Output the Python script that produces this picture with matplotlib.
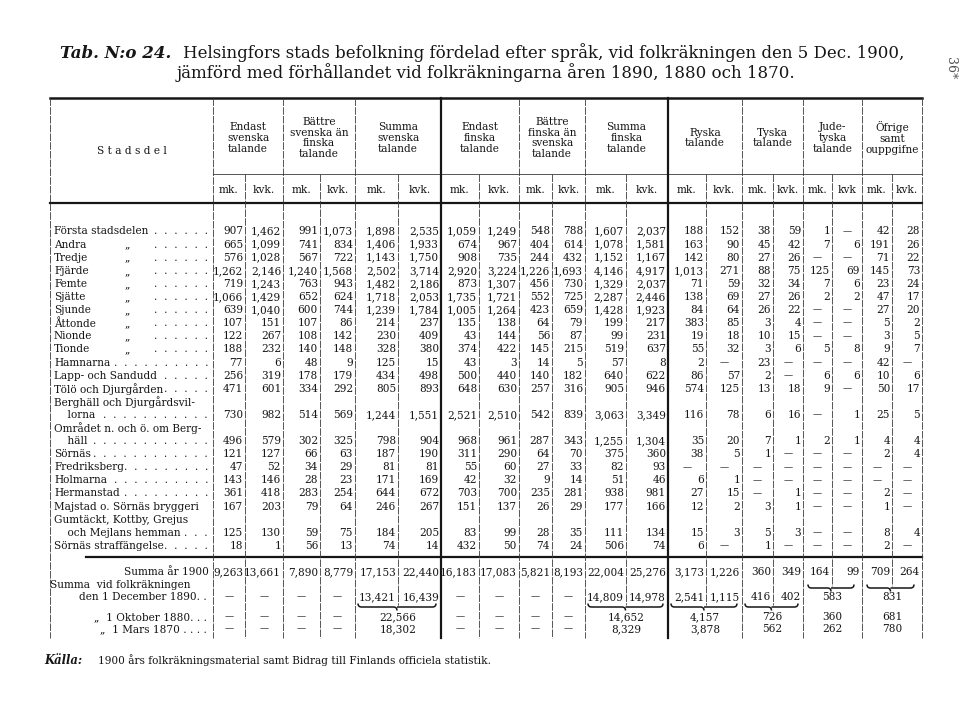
import matplotlib.pyplot as plt
from matplotlib.path import Path
from matplotlib.patches import PathPatch

# serif font similar to the printed table
plt.rcParams['font.family'] = ['DejaVu Serif']

# names of the districts (two-line names marked with \n)
stadsdelar = ["Första stadsdelen", "Andra", "Tredje", "Fjärde", "Femte", "Sjätte",
              "Sjunde", "Åttonde", "Nionde", "Tionde", "Hamnarna", "Lapp- och Sandudd",
              "Tölö och Djurgården", "Berghäll och Djurgårdsvil-\n    lorna",
              "Området n. och ö. om Berg-\n    häll", "Sörnäs", "Fredriksberg", "Holmarna",
              "Hermanstad", "Majstad o. Sörnäs bryggeri",
              "Gumtäckt, Kottby, Grejus\n    och Mejlans hemman", "Sörnäs straffängelse"]
# rows written with ditto mark („) after the name
ditto = [False] + [True] * 9 + [False] * 12

# values per column, None = dash
endast_sv_mk = [907, 665, 576, 1262, 719, 1066, 639, 107, 122, 188, 77, 256, 471, 730, 496, 121, 47, 143, 361, 167, 125, 18]
endast_sv_kvk = [1462, 1099, 1028, 2146, 1243, 1429, 1040, 151, 267, 232, 6, 319, 601, 982, 579, 127, 52, 146, 418, 203, 130, 1]
battre_sv_mk = [991, 741, 567, 1240, 763, 652, 600, 107, 108, 140, 48, 178, 334, 514, 302, 66, 34, 28, 283, 79, 59, 56]
battre_sv_kvk = [1073, 834, 722, 1568, 943, 624, 744, 86, 142, 148, 9, 179, 292, 569, 325, 63, 29, 23, 254, 64, 75, 13]
summa_sv_mk = [1898, 1406, 1143, 2502, 1482, 1718, 1239, 214, 230, 328, 125, 434, 805, 1244, 798, 187, 81, 171, 644, 246, 184, 74]
summa_sv_kvk = [2535, 1933, 1750, 3714, 2186, 2053, 1784, 237, 409, 380, 15, 498, 893, 1551, 904, 190, 81, 169, 672, 267, 205, 14]
endast_fi_mk = [1059, 674, 908, 2920, 873, 1735, 1005, 135, 43, 374, 43, 500, 648, 2521, 968, 311, 55, 42, 703, 151, 83, 432]
endast_fi_kvk = [1249, 967, 735, 3224, 1307, 1721, 1264, 138, 144, 422, 3, 440, 630, 2510, 961, 290, 60, 32, 700, 137, 99, 50]
battre_fi_mk = [548, 404, 244, 1226, 456, 552, 423, 64, 56, 145, 14, 140, 257, 542, 287, 64, 27, 9, 235, 26, 28, 74]
battre_fi_kvk = [788, 614, 432, 1693, 730, 725, 659, 79, 87, 215, 5, 182, 316, 839, 343, 70, 33, 14, 281, 29, 35, 24]
summa_fi_mk = [1607, 1078, 1152, 4146, 1329, 2287, 1428, 199, 99, 519, 57, 640, 905, 3063, 1255, 375, 82, 51, 938, 177, 111, 506]
summa_fi_kvk = [2037, 1581, 1167, 4917, 2037, 2446, 1923, 217, 231, 637, 8, 622, 946, 3349, 1304, 360, 93, 46, 981, 166, 134, 74]
ryska_mk = [188, 163, 142, 1013, 71, 138, 84, 383, 19, 55, 2, 86, 574, 116, 35, 38, None, 6, 27, 12, 15, 6]
ryska_kvk = [152, 90, 80, 271, 59, 69, 64, 85, 18, 32, None, 57, 125, 78, 20, 5, None, 1, 15, 2, 3, None]
tyska_mk = [38, 45, 27, 88, 32, 27, 26, 3, 10, 3, 23, 2, 13, 6, 7, 1, None, None, None, 3, 5, 1]
tyska_kvk = [59, 42, 26, 75, 34, 26, 22, 4, 15, 6, None, None, 18, 16, 1, None, None, None, 1, 1, 3, None]
jude_mk = [1, 7, None, 125, 7, 2, None, None, None, 5, None, 6, 9, None, 2, None, None, None, None, None, None, None]
jude_kvk = [None, 6, None, 69, 6, 2, None, None, None, 8, None, 6, None, 1, 1, None, None, None, None, None, None, None]
ofrige_mk = [42, 191, 71, 145, 23, 47, 27, 5, 3, 9, 42, 10, 50, 25, 4, 2, None, None, 2, 1, 8, 2]
ofrige_kvk = [28, 26, 22, 73, 24, 17, 20, 2, 5, 7, None, 6, 17, 5, 4, 4, None, None, None, None, 4, None]

kolumner = [endast_sv_mk, endast_sv_kvk, battre_sv_mk, battre_sv_kvk, summa_sv_mk, summa_sv_kvk,
            endast_fi_mk, endast_fi_kvk, battre_fi_mk, battre_fi_kvk, summa_fi_mk, summa_fi_kvk,
            ryska_mk, ryska_kvk, tyska_mk, tyska_kvk, jude_mk, jude_kvk, ofrige_mk, ofrige_kvk]

# totals
summa_1900 = [9263, 13661, 7890, 8779, 17153, 22440, 16183, 17083, 5821, 8193,
              22004, 25276, 3173, 1226, 360, 349, 164, 99, 709, 264]
# 1890: separate columns for the first 16, joined for Jude-tyska and Öfrige
summa_1890 = [None, None, None, None, 13421, 16439, None, None, None, None,
              14809, 14978, 2541, 1115, 416, 402]
summa_1890_grupp = [583, 831]
# 1880 and 1870: one value per group (None = two dashes)
summa_1880 = [None, None, 22566, None, None, 14652, 4157, 726, 360, 681]
summa_1870 = [None, None, 18302, None, None, 8329, 3878, 562, 262, 780]

grupper = ["Endast\nsvenska\ntalande", "Bättre\nsvenska än\nfinska\ntalande", "Summa\nsvenska\ntalande",
           "Endast\nfinska\ntalande", "Bättre\nfinska än\nsvenska\ntalande", "Summa\nfinska\ntalande",
           "Ryska\ntalande", "Tyska\ntalande", "Jude-\ntyska\ntalande", "Öfrige\nsamt\nouppgifne"]
underrubriker = ["mk.", "kvk."] * 8 + ["mk.", "kvk", "mk.", "kvk."]

# column edges in pixels
kanter = [213, 245, 283, 320, 355, 398, 441, 479, 519, 552, 585, 626,
          668, 706, 742, 773, 803, 832, 862, 892, 922]
fs = 7.6
farg = '#161616'

fig = plt.figure(figsize=(9.6, 7.01), dpi=100)
ax = fig.add_axes([0, 0, 1, 1])
ax.set_xlim(0, 960)
ax.set_ylim(701, 0)
ax.axis('off')
rend = fig.canvas.get_renderer()


def tal(v):
    return f"{v:,}"


def cell(kol, y, v):
    # number right aligned in the cell, dash centred
    if v is None:
        ax.text((kanter[kol] + kanter[kol + 1]) / 2, y, "—", ha='center', va='center', fontsize=fs - 1, color=farg)
    else:
        ax.text(kanter[kol + 1] - 2, y, tal(v), ha='right', va='center', fontsize=fs, color=farg)


def klammer(x0, x1, y, h=3.5):
    # curly brace opening upwards
    xm = (x0 + x1) / 2
    verts = [(x0, y - h), (x0, y), (x0 + h, y), (xm - h, y), (xm, y), (xm, y + h),
             (xm, y), (xm + h, y), (x1 - h, y), (x1, y), (x1, y - h)]
    codes = [Path.MOVETO, Path.CURVE3, Path.CURVE3, Path.LINETO, Path.CURVE3, Path.CURVE3,
             Path.MOVETO, Path.CURVE3, Path.LINETO, Path.CURVE3, Path.CURVE3]
    ax.add_patch(PathPatch(Path(verts, codes), fill=False, lw=1.1, color=farg))


# width of one leader step (dot and two spaces)
prov = ax.text(0, 0, ".  ", fontsize=fs)
steg = prov.get_window_extent(rend).width
prov.remove()


def punkter(x_start, y, x_slut=208):
    # leader dots up to the column line
    if x_slut - x_start < 10:
        return
    n = int((x_slut - x_start) / steg) + 1
    ax.text(x_slut, y, ".  " * (n - 1) + ".", ha='right', va='center', fontsize=fs, color=farg)


# title
ax.text(60, 53, "Tab. N:o 24.", fontsize=12, weight='bold', style='italic', va='center', color=farg)
ax.text(183, 53, "Helsingfors stads befolkning fördelad efter språk, vid folkräkningen den 5 Dec. 1900,",
        fontsize=12, va='center', color=farg)
ax.text(486, 73, "jämförd med förhållandet vid folkräkningarna åren 1890, 1880 och 1870.",
        ha='center', fontsize=12, va='center', color=farg)
ax.text(950, 68, "36*", rotation=-90, ha='center', va='center', fontsize=9, color='#555555')

# header
ax.text(132, 151, "S t a d s d e l", ha='center', va='center', fontsize=fs, color=farg)
for g, namn in enumerate(grupper):
    ax.text((kanter[2 * g] + kanter[2 * g + 2]) / 2, 138, namn, ha='center', va='center',
            fontsize=fs, linespacing=1.1, color=farg)
for k, u in enumerate(underrubriker):
    ax.text((kanter[k] + kanter[k + 1]) / 2, 190, u, ha='center', va='center', fontsize=fs, color=farg)

# district rows
y0 = 231.5
h = 13.1
rad = 0
for i, namn in enumerate(stadsdelar):
    rader = namn.split("\n")
    for j, r in enumerate(rader):
        t = ax.text(54, y0 + h * (rad + j), r, ha='left', va='center', fontsize=fs, color=farg)
    y = y0 + h * (rad + len(rader) - 1)
    if ditto[i]:
        ax.text(127, y, "„", ha='center', va='center', fontsize=fs, color=farg)
        punkter(150, y)
    else:
        slut = t.get_window_extent(rend).x1
        punkter(slut + 3, y)
    for k, kol in enumerate(kolumner):
        cell(k, y, kol[i])
    rad += len(rader)

# summary rows
ax.text(209, 572, "Summa år 1900", ha='right', va='center', fontsize=fs, color=farg)
for k, v in enumerate(summa_1900):
    cell(k, 572, v)

ax.text(50, 585, "Summa  vid folkräkningen", ha='left', va='center', fontsize=fs, color=farg)
ax.text(207, 597, "den 1 December 1890. .", ha='right', va='center', fontsize=fs, color=farg)
for k, v in enumerate(summa_1890):
    cell(k, 597, v)
for g, v in zip([8, 9], summa_1890_grupp):
    ax.text((kanter[2 * g] + kanter[2 * g + 2]) / 2, 597, tal(v), ha='center', va='center', fontsize=fs, color=farg)
    klammer(kanter[2 * g] + 5, kanter[2 * g + 2] - 8, 588)
for g in [2, 5, 6, 7]:
    klammer(kanter[2 * g] + 3, kanter[2 * g + 2] - 5, 607)

for y, etikett, vals in [(617, "„  1 Oktober 1880. . .", summa_1880), (629, "„  1 Mars 1870 . . . .", summa_1870)]:
    ax.text(207, y, etikett, ha='right', va='center', fontsize=fs, color=farg)
    for g, v in enumerate(vals):
        if v is None:
            cell(2 * g, y, None)
            cell(2 * g + 1, y, None)
        else:
            ax.text((kanter[2 * g] + kanter[2 * g + 2]) / 2, y, tal(v), ha='center', va='center',
                    fontsize=fs, color=farg)

# rules
lc = '#3a3a3a'
streck = (0, (9, 1.5))
ax.plot([50, 922], [98, 98], color=farg, lw=1.8)
ax.plot([213, 922], [174, 174], color=lc, lw=0.6)
ax.plot([50, 922], [203, 203], color=farg, lw=1.6)
ax.plot([86, 922], [557, 557], color=farg, lw=1.6)
botten = 638
for k, x in enumerate(kanter):
    if k % 2 == 0 or k == 20:
        tjock = x in (441, 668)
        ax.plot([x, x], [98, botten], color=farg if tjock else lc, lw=1.6 if tjock else 0.6,
                linestyle='-' if tjock else streck)
    else:
        g = k // 2
        stopp = botten
        if g in (2, 5, 6, 7):
            stopp = 605
        elif g in (8, 9):
            stopp = 586
        ax.plot([x, x], [174, stopp], color=lc, lw=0.6, linestyle=streck)
ax.plot([50, 50], [98, botten], color=lc, lw=0.6, linestyle=streck)

# source line
ax.text(44, 660, "Källa:", fontsize=fs + 0.8, weight='bold', style='italic', va='center', color=farg)
ax.text(98, 660, "1900 års folkräkningsmaterial samt Bidrag till Finlands officiela statistik.",
        fontsize=fs, va='center', color=farg)

fig.savefig('out.png', dpi=100)
